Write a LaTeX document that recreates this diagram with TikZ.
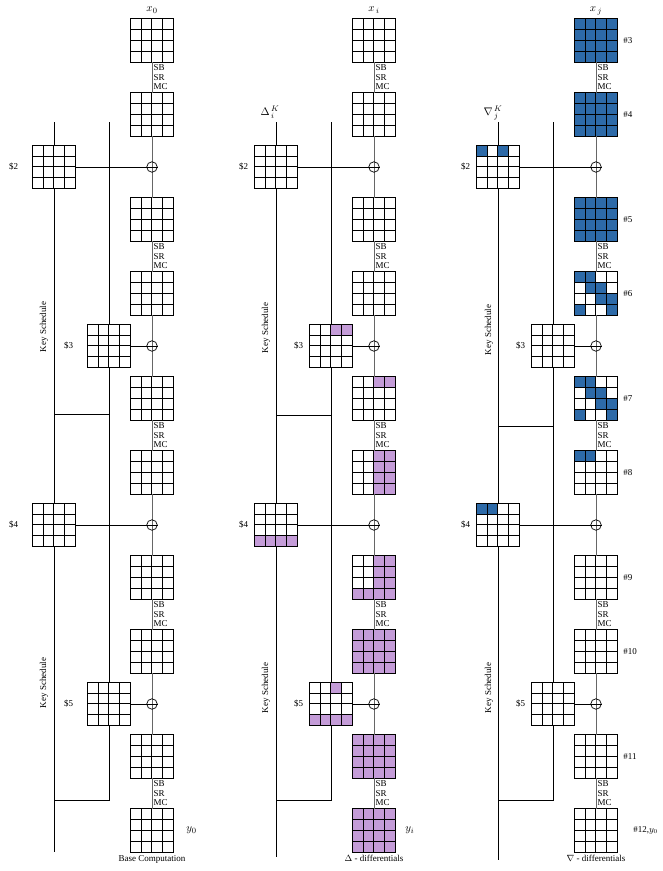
\documentclass[tikz,border=0pt]{standalone}
\usepackage[no-math]{fontspec}
\setmainfont{Liberation Serif}
\usetikzlibrary{calc,positioning}
\definecolor{dblue}{RGB}{45,106,168}
\definecolor{dpurple}{RGB}{196,156,216}
\tikzset{>=latex}
\tikzset{
  stbox/.style={minimum size=43pt, inner sep=0pt, fill=white},
  gridline/.style={line width=0.9pt, black},
  cellfill/.style={fill=white},
  mainline/.style={line width=0.9pt, black!60},
  keyline/.style={line width=0.7pt, black},
  xor/.style={circle, draw, line width=0.7pt, minimum size=10.5pt, inner sep=0pt},
  ops/.style={anchor=west, align=left, inner sep=1pt, xshift=0.5pt},
  lab/.style={inner sep=1pt},
  mlab/.style={inner sep=1pt, font=\fontsize{11}{12}\selectfont},
  kslab/.style={rotate=90, inner sep=1pt},
}
\def\cellsz{10.75}
% 4x4 state: name, x, y, coloured cells row/col
\newcommand{\stategrid}[5][]{%
  \node[stbox,#1] (#2) at (#3,#4) {};
  \def\cellist{#5}%
  \ifx\cellist\empty\else
    \foreach \row/\col in \cellist
      \fill[cellfill] ($(#2.north west)+(\col*\cellsz-\cellsz,\row*\cellsz-\cellsz)$) rectangle +(\cellsz,\cellsz);
  \fi
  \foreach \k in {1,2,3} {
    \draw[gridline] ($(#2.north west)+(\k*\cellsz,0)$) -- ($(#2.south west)+(\k*\cellsz,0)$);
    \draw[gridline] ($(#2.north west)+(0,\k*\cellsz)$) -- ($(#2.north east)+(0,\k*\cellsz)$);
  }
  \draw[gridline] (#2.north west) rectangle (#2.south east);
}

\begin{document}
\begin{tikzpicture}[x=1pt,y=-1pt,font=\fontsize{9}{9.5}\selectfont]
  \useasboundingbox (0,0) rectangle (662,871);

  % key schedule lines
  \foreach \p/\dx/\hy/\ly in {a/0/414/852,b/222/415/857,c/444/426/860}{
    \coordinate (\p lt) at (54+\dx,122);
    \coordinate (\p lb) at (54+\dx,\ly);
    \coordinate (\p rt) at (109+\dx,122);
    \coordinate (\p rb) at (109+\dx,800);
    \coordinate (\p lm) at (54+\dx,\hy);
    \coordinate (\p rm) at (109+\dx,\hy);
    \draw[keyline] (\p lt) -- (\p lb);
    \draw[keyline] (\p rt) -- (\p rb) -- (\p rb -| \p lb);
    \draw[keyline] (\p lm) -- (\p rm);
  }

  % base computation
  \stategrid{a1}{152}{40.5}{}
  \stategrid{a2}{152}{114.5}{}
  \stategrid{a3}{152}{219.5}{}
  \stategrid{a4}{152}{293.5}{}
  \stategrid{a5}{152}{398.5}{}
  \stategrid{a6}{152}{472.5}{}
  \stategrid{a7}{152}{577.5}{}
  \stategrid{a8}{152}{651.5}{}
  \stategrid{a9}{152}{756.5}{}
  \stategrid{a10}{152}{830.5}{}
  \stategrid{ak2}{54}{167}{}
  \stategrid{ak3}{109}{346}{}
  \stategrid{ak4}{54}{525}{}
  \stategrid{ak5}{109}{704}{}

  % delta differentials
  \tikzset{cellfill/.style={fill=dpurple}}
  \stategrid{b1}{374}{40.5}{}
  \stategrid{b2}{374}{114.5}{}
  \stategrid{b3}{374}{219.5}{}
  \stategrid{b4}{374}{293.5}{}
  \stategrid{b5}{374}{398.5}{1/3,1/4}
  \stategrid{b6}{374}{472.5}{1/3,1/4,2/3,2/4,3/3,3/4,4/3,4/4}
  \stategrid{b7}{374}{577.5}{1/3,1/4,2/3,2/4,3/3,3/4,4/1,4/2,4/3,4/4}
  \stategrid[fill=dpurple]{b8}{374}{651.5}{}
  \stategrid[fill=dpurple]{b9}{374}{756.5}{}
  \stategrid[fill=dpurple]{b10}{374}{830.5}{}
  \stategrid{bk2}{276}{167}{}
  \stategrid{bk3}{331}{346}{1/3,1/4}
  \stategrid{bk4}{276}{525}{4/1,4/2,4/3,4/4}
  \stategrid{bk5}{331}{704}{1/3,4/1,4/2,4/3,4/4}

  % nabla differentials
  \tikzset{cellfill/.style={fill=dblue}}
  \stategrid[fill=dblue]{c1}{596}{40.5}{}
  \stategrid[fill=dblue]{c2}{596}{114.5}{}
  \stategrid[fill=dblue]{c3}{596}{219.5}{}
  \stategrid{c4}{596}{293.5}{1/1,1/2,2/2,2/3,3/3,3/4,4/1,4/4}
  \stategrid{c5}{596}{398.5}{1/1,1/2,2/2,2/3,3/3,3/4,4/1,4/4}
  \stategrid{c6}{596}{472.5}{1/1,1/2}
  \stategrid{c7}{596}{577.5}{}
  \stategrid{c8}{596}{651.5}{}
  \stategrid{c9}{596}{756.5}{}
  \stategrid{c10}{596}{830.5}{}
  \stategrid{ck2}{498}{167}{1/1,1/3}
  \stategrid{ck3}{553}{346}{}
  \stategrid{ck4}{498}{525}{1/1,1/2}
  \stategrid{ck5}{553}{704}{}

  % rounds, xor and round keys
  \foreach \p/\m in {a/152,b/374,c/596}{
    \foreach \i [evaluate=\i as \j using int(\i+1)] in {1,...,9}
      \draw[mainline] (\p\i.south) -- (\p\j.north);
    \foreach \i [evaluate=\i as \j using int(\i+1)] in {1,3,5,7,9}
      \node[ops] at ($(\p\i.south)!.5!(\p\j.north)$) {SB\\SR\\MC};
    \foreach \k/\y in {2/167,3/346,4/525,5/704}{
      \node[xor] (\p x\k) at (\m,\y) {};
      \draw[keyline] (\p k\k.east) -- (\p x\k.east);
    }
  }

  % labels
  \foreach \k in {2,3,4,5}{
    \node[lab, left=13pt of ak\k] {\$\k};
    \node[lab, left=5pt of bk\k] {\$\k};
    \node[lab, left=5pt of ck\k] {\$\k};
  }
  \node[mlab, above=4pt of a1] {$x_0$};
  \node[mlab, above=4pt of b1] {$x_{\,i}$};
  \node[mlab, above=3pt of c1] {$x_{\,j}$};
  \node[mlab] (dk) at (270,112) {$\Delta_{\,i}^{\,K}$};
  \node[mlab] (nk) at (493,113) {$\nabla_{\,j}^{\,K}$};
  \foreach \i [evaluate=\i as \n using int(\i+2)] in {1,...,9}
    \node[lab, right=4.5pt of c\i] {\#\n};
  \node[mlab, right=11.5pt of a10] {$y_0$};
  \node[mlab, right=8.5pt of b10] {$y_i$};
  \node[lab, right=14.5pt of c10] {\#12,$y_0$};
  \node[lab, below=2pt of a10] {Base Computation};
  \node[lab, below=2pt of b10] {$\Delta$ - differentials};
  \node[lab, below=2pt of c10] {$\nabla$ - differentials};
  \node[kslab] (aks1) at (44,327) {Key Schedule};
  \node[kslab] (aks2) at (44,683) {Key Schedule};
  \node[kslab] (bks1) at (266,328) {Key Schedule};
  \node[kslab] (bks2) at (266,688) {Key Schedule};
  \node[kslab] (cks1) at (489,330) {Key Schedule};
  \node[kslab] (cks2) at (489,688) {Key Schedule};
\end{tikzpicture}
\end{document}
